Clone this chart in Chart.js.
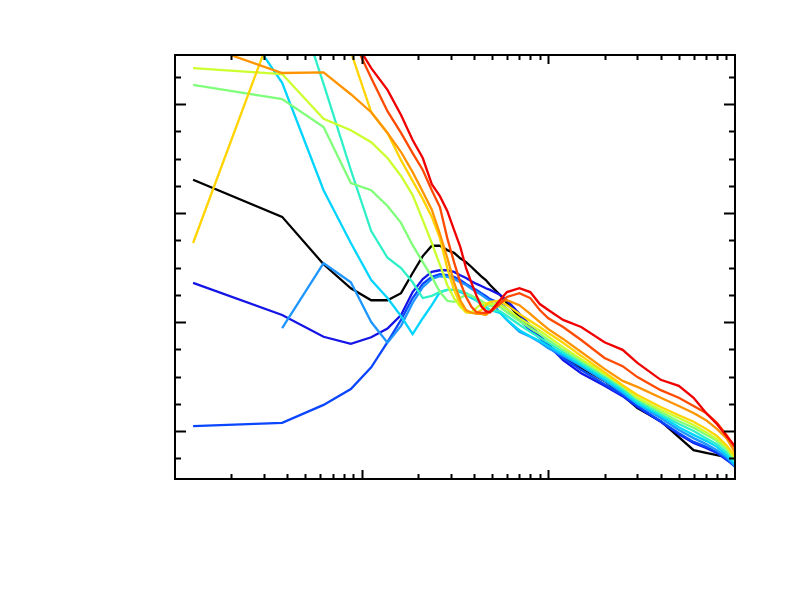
<!DOCTYPE html>
<html>
<head>
<meta charset="utf-8">
<script src="https://cdn.jsdelivr.net/npm/chart.js@4.4.1/dist/chart.umd.min.js"></script>
<style>
  html, body { margin: 0; padding: 0; background: #ffffff; }
  #c { display: block; }
</style>
</head>
<body>
<canvas id="c" width="786" height="591"></canvas>
<script>
// Frequencies (log x axis)
const freqs = [1.25,3.75,6.25,8.75,11.25,13.75,16.25,18.75,21.25,23.75,26.25,28.75,31.25,33.75,36.25,38.75,41.25,43.75,46.25,48.75,55,60,70,80,90,100,120,150,200,250,300,400,500,600,700,800,900,1000];

// Series values (y axis, arbitrary dB-like units)
const black       = [46.1,39.3,30.6,26.2,24.0,24.0,25.3,29.0,32.1,34.0, 34.0,33.2,32.7,31.7,31.0,30.1,29.2,28.4,27.7,26.8, 25.0,23.5,20.9,19.3,17.4,15.8,13.6,11.6,9.2,6.6, 4.2,1.8,-1.1,-3.5,-4.0,-4.4,-4.8,-5.3];
const darkBlue    = [27.2,21.3,17.3,16.0,17.2,18.8,21.3,25.5,27.9,29.2, 29.5,29.5,29.2,28.6,28.1,27.5,27.0,26.6,26.2,25.9, 25.0,24.0,21.5,19.3,17.6,15.8,13.0,10.6,8.3,6.4, 4.4,1.7,-0.6,-2.2,-3.1,-4.0,-5.3,-6.4];
const blue        = [0.9,1.5,4.8,7.7,11.7,16.3,20.4,24.4,27.0,28.3, 28.8,28.6,28.3,27.7,27.0,26.4,25.9,25.3,24.8,24.2, 23.5,22.4,20.4,18.5,17.1,15.4,13.4,11.2,8.6,6.6, 4.6,1.8,-0.4,-2.0,-2.9,-3.9,-5.1,-6.6];
const azure       = [null,18.9,30.8,27.3,20.0,16.2,19.3,23.5,26.4,27.9, 28.4,28.3,27.9,27.3,26.8,26.1,25.5,25.0,24.4,23.9, 21.8,20.4,18.2,17.3,16.3,15.2,13.8,11.9,9.2,7.0, 5.0,2.4,0.2,-1.3,-2.4,-3.5,-4.8,-6.4];
const cyan        = [87.9,63.9,44.2,34.5,27.7,24.4,21.1,17.8,20.7,23.1, 25.5,25.9,25.9,25.5,25.0,24.4,23.9,23.3,22.8,22.2, 21.7,20.4,18.5,17.4,16.5,15.6,14.1,12.1,9.5,7.3, 5.1,2.8,0.7,-0.7,-1.8,-2.9,-4.4,-6.1];
const aqua        = [null,87.0,63.7,47.9,36.7,31.8,29.9,27.3,24.4,24.8, 25.5,25.9,25.9,25.7,25.3,24.8,24.0,23.3,22.6,22.2, 22.0,21.1,19.5,18.2,17.1,16.2,14.5,12.5,9.9,7.7, 5.5,3.1,1.3,0.0,-1.3,-2.4,-3.9,-5.7];
const green       = [63.5,60.9,55.8,45.5,44.2,41.3,38.2,34.1,31.0,28.3, 25.5,23.9,23.7,24.4,25.0,24.8,24.4,23.9,23.3,22.9, 22.8,21.8,20.2,18.9,17.8,16.7,14.9,12.9,10.3,8.1, 5.9,3.5,1.8,0.6,-0.7,-1.8,-3.3,-5.3];
const yellowGreen = [66.6,65.5,57.3,55.2,53.0,50.1,46.8,43.3,38.7,34.5, 30.5,26.8,24.4,22.8,21.8,21.8,22.6,23.3,23.5,23.3, 23.3,22.4,20.7,19.5,18.4,17.3,15.4,13.2,10.5,8.3, 6.1,3.9,2.4,1.1,-0.2,-1.5,-2.9,-5.0];
const yellow      = [34.5,78.5,null,69.6,58.5,54.7,49.7,45.9,42.6,39.3, 35.4,29.9,25.9,23.3,21.8,21.7,21.7,22.2,23.1,23.7, 23.9,23.1,21.5,20.2,19.1,18.0,16.2,13.8,10.8,8.4, 6.6,4.4,2.9,1.7,0.4,-0.9,-2.6,-4.6];
const orange      = [71.4,65.7,65.8,61.8,58.5,54.7,51.2,47.5,43.9,40.6, 36.2,31.8,27.3,24.0,22.2,21.7,21.5,21.5,21.3,22.0, 23.7,24.0,23.1,21.5,20.0,18.7,16.9,14.5,11.4,9.2, 8.1,6.1,4.6,3.3,2.0,0.4,-1.3,-3.9];
const orangeRed   = [null,null,null,72.7,64.8,58.7,54.7,51.0,47.9,44.2, 41.1,35.4,31.0,27.3,24.6,22.8,21.8,21.7,21.7,21.8, 23.3,24.6,25.3,24.4,22.2,20.7,19.1,16.7,13.4,11.9, 9.9,7.5,6.1,4.6,3.3,1.5,-0.7,-3.1];
const red         = [null,null,null,72.7,66.6,62.6,58.0,53.4,50.1,45.3, 43.1,40.4,36.9,33.8,29.9,27.2,24.8,22.9,22.0,21.8, 24.0,25.5,26.2,25.5,23.3,22.2,20.4,19.1,16.3,14.9, 12.5,9.4,8.3,6.1,3.3,1.3,-0.9,-2.8];

// Tick values (no labels shown in the reference)
const xMajorTicks = [10, 100];
const xMinorTicks = [2,3,4,5,6,7,8,9,20,30,40,50,60,70,80,90,200,300,400,500,600,700,800,900];
const yMajorTicks = [0, 20, 40, 60];
const yMinorTicks = [-5,5,10,15,25,30,35,45,50,55,65];

const seriesList = [
  { data: black,       color: '#000000' },
  { data: darkBlue,    color: '#1414e6' },
  { data: blue,        color: '#0a46ff' },
  { data: azure,       color: '#1e96ff' },
  { data: cyan,        color: '#00d4ff' },
  { data: aqua,        color: '#2ef0c8' },
  { data: green,       color: '#80ff7a' },
  { data: yellowGreen, color: '#ccff30' },
  { data: yellow,      color: '#ffd400' },
  { data: orange,      color: '#ff9400' },
  { data: orangeRed,   color: '#ff4a00' },
  { data: red,         color: '#f00000' }
];

const datasets = seriesList.map((s, i) => ({
  data: freqs.map((f, k) => ({ x: f, y: s.data[k] })),
  borderColor: s.color,
  backgroundColor: s.color,
  borderWidth: 2.3,
  pointRadius: 0,
  tension: 0,
  fill: false,
  spanGaps: false,
  clip: 0,
  order: seriesList.length - 1 - i
}));

const frameTicks = {
  id: 'frameTicks',
  afterDatasetsDraw(chart) {
    const { ctx, chartArea: a, scales } = chart;
    const xs = scales.x, ys = scales.y;
    ctx.save();
    ctx.strokeStyle = '#000000';
    ctx.lineWidth = 2;
    ctx.lineCap = 'butt';
    ctx.strokeRect(a.left, a.top, a.right - a.left, a.bottom - a.top);
    const drawX = (vals, len) => {
      vals.forEach(v => {
        const px = Math.round(xs.getPixelForValue(v)) + 0.5;
        ctx.beginPath();
        ctx.moveTo(px, a.bottom); ctx.lineTo(px, a.bottom - len);
        ctx.moveTo(px, a.top); ctx.lineTo(px, a.top + len);
        ctx.stroke();
      });
    };
    const drawY = (vals, len) => {
      vals.forEach(v => {
        const py = Math.round(ys.getPixelForValue(v)) + 0.5;
        ctx.beginPath();
        ctx.moveTo(a.left, py); ctx.lineTo(a.left + len, py);
        ctx.moveTo(a.right, py); ctx.lineTo(a.right - len, py);
        ctx.stroke();
      });
    };
    drawX(xMajorTicks, 9);
    drawX(xMinorTicks, 5);
    drawY(yMajorTicks, 11);
    drawY(yMinorTicks, 6);
    ctx.restore();
  }
};

new Chart(document.getElementById('c'), {
  type: 'line',
  data: { datasets },
  options: {
    responsive: false,
    animation: false,
    events: [],
    layout: { padding: { left: 175, top: 55, right: 51, bottom: 112 } },
    plugins: { legend: { display: false }, tooltip: { enabled: false }, title: { display: false } },
    scales: {
      x: { type: 'logarithmic', min: 1, max: 1000, display: false },
      y: { type: 'linear', min: -8.8, max: 69.0, display: false }
    }
  },
  plugins: [frameTicks]
});
</script>
</body>
</html>
